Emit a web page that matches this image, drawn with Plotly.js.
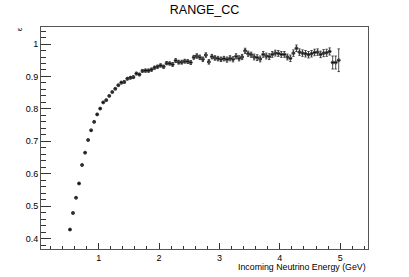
<!DOCTYPE html>
<html>
<head>
<meta charset="utf-8">
<script src="https://cdn.plot.ly/plotly-3.0.1.min.js"></script>
<style>
html,body{margin:0;padding:0;background:#fff;}
#chart{width:409px;height:277px;}
</style>
</head>
<body>
<div id="chart"></div>
<script>
// Bin centres (GeV), bin half-width 0.025
const energy = [
0.525,0.575,0.625,0.675,0.725,0.775,0.825,0.875,0.925,0.975,
1.025,1.075,1.125,1.175,1.225,1.275,1.325,1.375,1.425,1.475,
1.525,1.575,1.625,1.675,1.725,1.775,1.825,1.875,1.925,1.975,
2.025,2.075,2.125,2.175,2.225,2.275,2.325,2.375,2.425,2.475,
2.525,2.575,2.625,2.675,2.725,2.775,2.825,2.875,2.925,2.975,
3.025,3.075,3.125,3.175,3.225,3.275,3.325,3.375,3.425,3.475,
3.525,3.575,3.625,3.675,3.725,3.775,3.825,3.875,3.925,3.975,
4.025,4.075,4.125,4.175,4.225,4.275,4.325,4.375,4.425,4.475,
4.525,4.575,4.625,4.675,4.725,4.775,4.825,4.875,4.925,4.975
];
const efficiency = [
0.428,0.479,0.526,0.570,0.627,0.665,0.704,0.734,0.760,0.783,
0.801,0.820,0.827,0.840,0.852,0.862,0.873,0.881,0.883,0.893,
0.896,0.898,0.909,0.906,0.917,0.918,0.918,0.921,0.927,0.930,
0.934,0.930,0.941,0.940,0.937,0.949,0.944,0.944,0.947,0.946,
0.943,0.959,0.963,0.959,0.953,0.966,0.945,0.961,0.957,0.955,
0.953,0.955,0.952,0.956,0.953,0.962,0.956,0.960,0.979,0.970,
0.967,0.960,0.958,0.954,0.968,0.963,0.961,0.968,0.972,0.971,
0.968,0.968,0.960,0.956,0.972,0.987,0.975,0.972,0.970,0.967,
0.970,0.974,0.975,0.968,0.972,0.973,0.977,0.943,0.943,0.950
];
const errors = [
0.003,0.003,0.003,0.003,0.003,0.003,0.003,0.003,0.003,0.003,
0.003,0.003,0.003,0.003,0.003,0.003,0.003,0.004,0.004,0.004,
0.004,0.004,0.004,0.004,0.004,0.005,0.005,0.005,0.005,0.005,
0.005,0.005,0.005,0.005,0.006,0.006,0.006,0.006,0.006,0.006,
0.006,0.006,0.007,0.007,0.007,0.007,0.007,0.007,0.007,0.007,
0.007,0.007,0.008,0.008,0.008,0.008,0.008,0.008,0.008,0.008,
0.008,0.009,0.009,0.009,0.009,0.009,0.009,0.009,0.009,0.009,
0.009,0.009,0.009,0.010,0.010,0.010,0.010,0.010,0.010,0.010,
0.010,0.010,0.010,0.010,0.011,0.011,0.011,0.020,0.020,0.035
];
const binHalfWidth = 0.025;

const trace = {
  type: 'scatter', mode: 'markers',
  x: energy, y: efficiency,
  marker: {symbol: 'circle-open', size: 3, color: '#222', line: {width: 0.8, color: '#222'}},
  error_y: {type: 'data', array: errors, visible: true, color: '#222', thickness: 0.8, width: 1.2},
  error_x: {type: 'constant', value: binHalfWidth, visible: true, color: '#111', thickness: 1.2, width: 0},
  hoverinfo: 'none'
};

const font = 'Liberation Sans, Arial, Helvetica, sans-serif';
const layout = {
  width: 409, height: 277,
  margin: {l: 41, r: 41, t: 27, b: 28, pad: 0},
  paper_bgcolor: '#fff', plot_bgcolor: '#fff',
  showlegend: false,
  font: {family: font, size: 9, color: '#000'},
  title: {text: 'RANGE_CC', font: {family: font, size: 12.5, color: '#000'}, x: 0.5, xanchor: 'center', y: 0.967, yanchor: 'middle'},
  xaxis: {
    range: [0.045, 5.46], showgrid: false, zeroline: false,
    showline: true, mirror: true, linecolor: '#555', linewidth: 1,
    ticks: 'inside', ticklen: 6, tickwidth: 1, tickcolor: '#333',
    tick0: 0, dtick: 1, tickfont: {family: font, size: 9, color: '#000'},
    minor: {dtick: 0.2, ticks: 'inside', ticklen: 3, tickcolor: '#333', tickwidth: 1, showgrid: false}
  },
  yaxis: {
    range: [0.368, 1.0525], showgrid: false, zeroline: false,
    showline: true, mirror: true, linecolor: '#555', linewidth: 1,
    ticks: 'inside', ticklen: 10, tickwidth: 1, tickcolor: '#333',
    tick0: 0, dtick: 0.1, tickfont: {family: font, size: 9, color: '#000'},
    minor: {dtick: 0.02, ticks: 'inside', ticklen: 5, tickcolor: '#333', tickwidth: 1, showgrid: false}
  },
  annotations: [
    {text: 'ε', xref: 'paper', yref: 'paper', x: -0.067, y: 0.99, xanchor: 'center', yanchor: 'middle',
     textangle: -90, showarrow: false, font: {family: font, size: 8, color: '#000'}},
    {text: 'Incoming Neutrino Energy (GeV)', xref: 'paper', yref: 'paper', x: 1, y: -0.079,
     xanchor: 'right', yanchor: 'middle', showarrow: false, font: {family: font, size: 8.8, color: '#000'}}
  ]
};

Plotly.newPlot('chart', [trace], layout, {staticPlot: true, displayModeBar: false});
</script>
</body>
</html>
